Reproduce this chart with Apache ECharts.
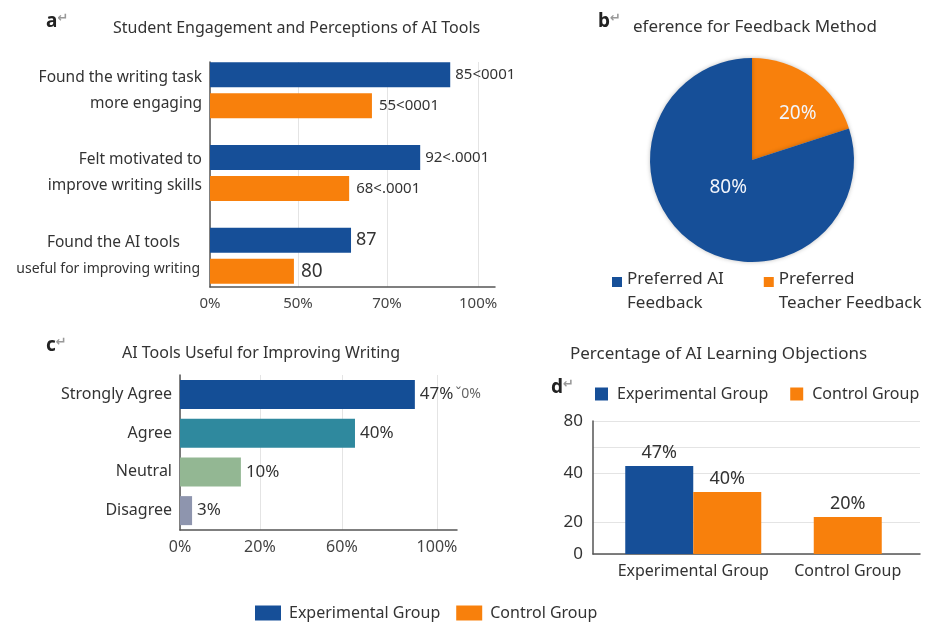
<!DOCTYPE html>
<html>
<head>
<meta charset="utf-8">
<script src="https://cdn.jsdelivr.net/npm/echarts@6/dist/echarts.min.js"></script>
<style>
  html, body { margin: 0; padding: 0; background: #fff; }
  #chart { width: 932px; height: 623px; }
</style>
</head>
<body>
<div id="chart"></div>
<script>
// a: engagement (bar lengths read against the drawn axis, labels as printed)
const engageCats = ['Found the writing task\nmore engaging', 'Felt motivated to\nimprove writing skills', 'Found the AI tools\nuseful for improving writing'];
const engageExp = [89.6, 78.4, 52.6];
const engageCtl = [60.4, 51.9, 31.3];
const engageExpLabels = ['85<0001', '92<.0001', '87'];
const engageCtlLabels = ['55<0001', '68<.0001', '80'];
const engageTickValues = [0, 32.8, 66, 100];
const engageTickLabels = ['0%', '50%', '70%', '100%'];

// b: feedback preference
const feedbackNames = ['Preferred\nTeacher Feedback', 'Preferred AI\nFeedback'];
const feedbackValues = [20, 80];

// c: usefulness
const usefulCats = ['Strongly Agree', 'Agree', 'Neutral', 'Disagree'];
const usefulValues = [91.4, 68.1, 23.7, 4.7];
const usefulLabels = ['47%{s|ˇ0%}', '40%', '10%', '3%'];
const usefulTickValues = [0, 31.1, 63, 100];
const usefulTickLabels = ['0%', '20%', '60%', '100%'];

// d: objections
const objectionCats = ['Experimental Group', 'Control Group'];
const objectionExp = [52.9, '-'];
const objectionCtl = [37.3, 22.3];
const objectionExpLabels = ['47%', ''];
const objectionCtlLabels = ['40%', '20%'];
const objectionTickValues = [0, 19.2, 48.7, 64.4, 80];
const objectionTickLabels = ['0', '20', '40', '', '80'];

const groupNames = ['Experimental Group', 'Control Group'];

const BLUE = '#164f98';
const ORANGE = '#f8800c';
const FONT = 'Noto Sans';
const TEXT = '#333';

function tickFormatter(values, labels) {
  return (v) => {
    let best = 0;
    values.forEach((t, i) => { if (Math.abs(t - v) < Math.abs(values[best] - v)) best = i; });
    return labels[best];
  };
}

function panelTag(letter, left, top) {
  return {
    text: '{l|' + letter + '}{r|↵}',
    left: left, top: top, padding: 0,
    textStyle: {
      rich: {
        l: { fontSize: 19, fontFamily: FONT, color: '#222' },
        r: { fontSize: 13, fontFamily: 'DejaVu Sans', color: '#999', verticalAlign: 'top', padding: [0, 0, 6, 0] }
      }
    }
  };
}

function heading(text, left, top, size) {
  return {
    text: text, left: left, top: top, padding: 0,
    textStyle: { fontSize: size, fontWeight: 'normal', fontFamily: FONT, color: TEXT }
  };
}

function box(left, top, width, height) {
  return { left: left, top: top, width: width, height: height, outerBoundsMode: 'none', containLabel: false };
}

// the last category label is set narrower and centred, as in the source figure
function engageCatLabel(value, index) {
  if (index !== 2) return value;
  const lines = value.split('\n');
  return '{a|' + lines[0] + '}\n{n|' + lines[1] + '}';
}

const chart = echarts.init(document.getElementById('chart'));

const axisLineStyle = { show: true, lineStyle: { color: '#555', width: 1.5 } };
const gridLineStyle = { show: true, lineStyle: { color: '#e4e4e4', width: 1 } };

// square drawn at the top of a taller box, so it sits by the first text line
const topSquare = 'path://M0,0h10v10h-10z M0,28h0.01';

const option = {
  backgroundColor: '#fff',
  animation: false,
  title: [
    panelTag('a', 46, 12),
    heading('Student Engagement and Perceptions of AI Tools', 113, 20, 16),
    panelTag('b', 598, 12),
    heading('eference for Feedback Method', 633, 19, 17),
    panelTag('c', 46, 336),
    heading('AI Tools Useful for Improving Writing', 122, 345, 16),
    heading('Percentage of AI Learning Objections', 570, 346, 17),
    panelTag('d', 551, 378)
  ],
  legend: [
    {
      data: [feedbackNames[1], feedbackNames[0]],
      left: 607, top: 262,
      orient: 'horizontal',
      itemWidth: 10, itemHeight: 28, itemGap: 40,
      icon: topSquare,
      textStyle: { fontSize: 17, fontFamily: FONT, color: TEXT, lineHeight: 24 }
    },
    {
      data: groupNames,
      left: 590, top: 381,
      itemWidth: 13, itemHeight: 13, itemGap: 22,
      icon: 'rect',
      textStyle: { fontSize: 16, fontFamily: FONT, color: TEXT, padding: [0, 0, 0, 4] }
    },
    {
      data: groupNames,
      left: 250, top: 600,
      itemWidth: 26, itemHeight: 15, itemGap: 16,
      icon: 'rect',
      textStyle: { fontSize: 16, fontFamily: FONT, color: TEXT, padding: [0, 0, 0, 3] }
    }
  ],
  grid: [
    box(210, 62, 285, 225),
    box(210, 49, 285, 248),
    box(180, 375, 277, 155),
    box(593, 421, 327, 133),
    box(616, 421, 309, 133)
  ],
  xAxis: [
    {
      gridIndex: 0, type: 'value', min: 0, max: 106.3,
      axisLine: axisLineStyle,
      axisTick: { show: false, customValues: engageTickValues },
      axisLabel: {
        customValues: engageTickValues, margin: 9,
        fontSize: 15, fontFamily: FONT, color: '#444',
        formatter: tickFormatter(engageTickValues, engageTickLabels)
      },
      splitLine: gridLineStyle
    },
    { gridIndex: 1, type: 'value', min: 0, max: 106.3, show: false },
    {
      gridIndex: 2, type: 'value', min: 0, max: 107.8,
      axisLine: axisLineStyle,
      axisTick: { show: false, customValues: usefulTickValues },
      axisLabel: {
        customValues: usefulTickValues, margin: 9,
        fontSize: 16, fontFamily: FONT, color: '#444',
        formatter: tickFormatter(usefulTickValues, usefulTickLabels)
      },
      splitLine: gridLineStyle
    },
    {
      gridIndex: 3, type: 'category', data: objectionCats,
      axisLine: axisLineStyle, axisTick: { show: false }, axisLabel: { show: false }
    },
    {
      gridIndex: 4, type: 'category', data: objectionCats,
      axisLine: { show: false }, axisTick: { show: false },
      axisLabel: { interval: 0, margin: 9, fontSize: 16, fontFamily: FONT, color: TEXT }
    },
    { gridIndex: 4, type: 'category', data: objectionCats, show: false }
  ],
  yAxis: [
    {
      gridIndex: 0, type: 'category', data: engageCats, inverse: true,
      axisLine: axisLineStyle, axisTick: { show: false }, axisLabel: { show: false }
    },
    {
      gridIndex: 1, type: 'category', data: engageCats, inverse: true,
      axisLine: { show: false }, axisTick: { show: false },
      axisLabel: {
        margin: 8, fontSize: 15.5, fontFamily: FONT, color: TEXT, lineHeight: 26, align: 'right',
        formatter: engageCatLabel,
        rich: {
          a: { fontSize: 15.5, fontFamily: FONT, color: TEXT, lineHeight: 26, padding: [0, 22, 0, 0] },
          n: { fontSize: 14, fontFamily: FONT, color: TEXT, lineHeight: 26, padding: [0, 2, 0, 0] }
        }
      }
    },
    {
      gridIndex: 2, type: 'category', data: usefulCats, inverse: true,
      axisLine: axisLineStyle, axisTick: { show: false },
      axisLabel: { margin: 8, fontSize: 16, fontFamily: FONT, color: TEXT }
    },
    {
      gridIndex: 3, type: 'value', min: 0, max: 80,
      axisLine: axisLineStyle,
      axisTick: { show: false, customValues: objectionTickValues },
      axisLabel: {
        customValues: objectionTickValues, margin: 10,
        fontSize: 17, fontFamily: FONT, color: TEXT,
        formatter: tickFormatter(objectionTickValues, objectionTickLabels)
      },
      splitLine: gridLineStyle
    },
    { gridIndex: 4, type: 'value', min: 0, max: 80, show: false }
  ],
  series: [
    {
      name: groupNames[0], type: 'bar', xAxisIndex: 1, yAxisIndex: 1,
      data: engageExp, barWidth: 25, barGap: '24%',
      itemStyle: { color: BLUE },
      label: {
        show: true, position: 'right', distance: 5,
        fontSize: 15, fontFamily: FONT, color: TEXT,
        formatter: (p) => engageExpLabels[p.dataIndex].length > 3
          ? engageExpLabels[p.dataIndex] : '{big|' + engageExpLabels[p.dataIndex] + '}',
        rich: { big: { fontSize: 18, fontFamily: FONT, color: TEXT } }
      }
    },
    {
      name: groupNames[1], type: 'bar', xAxisIndex: 1, yAxisIndex: 1,
      data: engageCtl, barWidth: 25,
      itemStyle: { color: ORANGE },
      label: {
        show: true, position: 'right', distance: 7,
        fontSize: 15, fontFamily: FONT, color: TEXT,
        formatter: (p) => engageCtlLabels[p.dataIndex].length > 3
          ? engageCtlLabels[p.dataIndex] : '{big|' + engageCtlLabels[p.dataIndex] + '}',
        rich: { big: { fontSize: 19, fontFamily: FONT, color: TEXT } }
      }
    },
    {
      type: 'pie', center: [752, 160], radius: 102,
      startAngle: 90, clockwise: true,
      data: feedbackNames.map((n, i) => ({ name: n, value: feedbackValues[i] })),
      color: [ORANGE, BLUE],
      itemStyle: { shadowBlur: 4, shadowColor: 'rgba(0,0,0,0.25)' },
      label: {
        show: true, position: 'inside',
        fontSize: 19, fontFamily: FONT, color: '#f2f5fb',
        formatter: (p) => p.value + '%'
      },
      labelLayout: (p) => p.dataIndex === 0 ? { dx: 14, dy: -3 } : { dx: 8, dy: -16 },
      emphasis: { disabled: true }
    },
    {
      type: 'bar', xAxisIndex: 2, yAxisIndex: 2,
      data: usefulValues.map((v, i) => ({
        value: v,
        itemStyle: { color: ['#144e96', '#2f899e', '#93b793', '#8e95ae'][i] }
      })),
      barWidth: 29,
      label: {
        show: true, position: 'right', distance: 5,
        fontSize: 17, fontFamily: FONT, color: TEXT,
        formatter: (p) => usefulLabels[p.dataIndex],
        rich: { s: { fontSize: 14, fontFamily: FONT, color: '#666', padding: [0, 0, 0, 2] } }
      }
    },
    {
      name: groupNames[0], type: 'bar', xAxisIndex: 4, yAxisIndex: 4,
      data: objectionExp, barWidth: 68, barGap: 0,
      itemStyle: { color: BLUE },
      label: {
        show: true, position: 'top', distance: 4,
        fontSize: 18, fontFamily: FONT, color: TEXT,
        formatter: (p) => objectionExpLabels[p.dataIndex]
      }
    },
    {
      name: groupNames[1], type: 'bar', xAxisIndex: 4, yAxisIndex: 4,
      data: [objectionCtl[0], '-'], barWidth: 68,
      itemStyle: { color: ORANGE },
      label: {
        show: true, position: 'top', distance: 4,
        fontSize: 18, fontFamily: FONT, color: TEXT,
        formatter: (p) => objectionCtlLabels[p.dataIndex]
      }
    },
    {
      name: groupNames[1], type: 'bar', xAxisIndex: 5, yAxisIndex: 4,
      data: ['-', objectionCtl[1]], barWidth: 68,
      itemStyle: { color: ORANGE },
      label: {
        show: true, position: 'top', distance: 4,
        fontSize: 18, fontFamily: FONT, color: TEXT,
        formatter: (p) => objectionCtlLabels[p.dataIndex]
      }
    }
  ]
};

chart.setOption(option);
</script>
</body>
</html>
